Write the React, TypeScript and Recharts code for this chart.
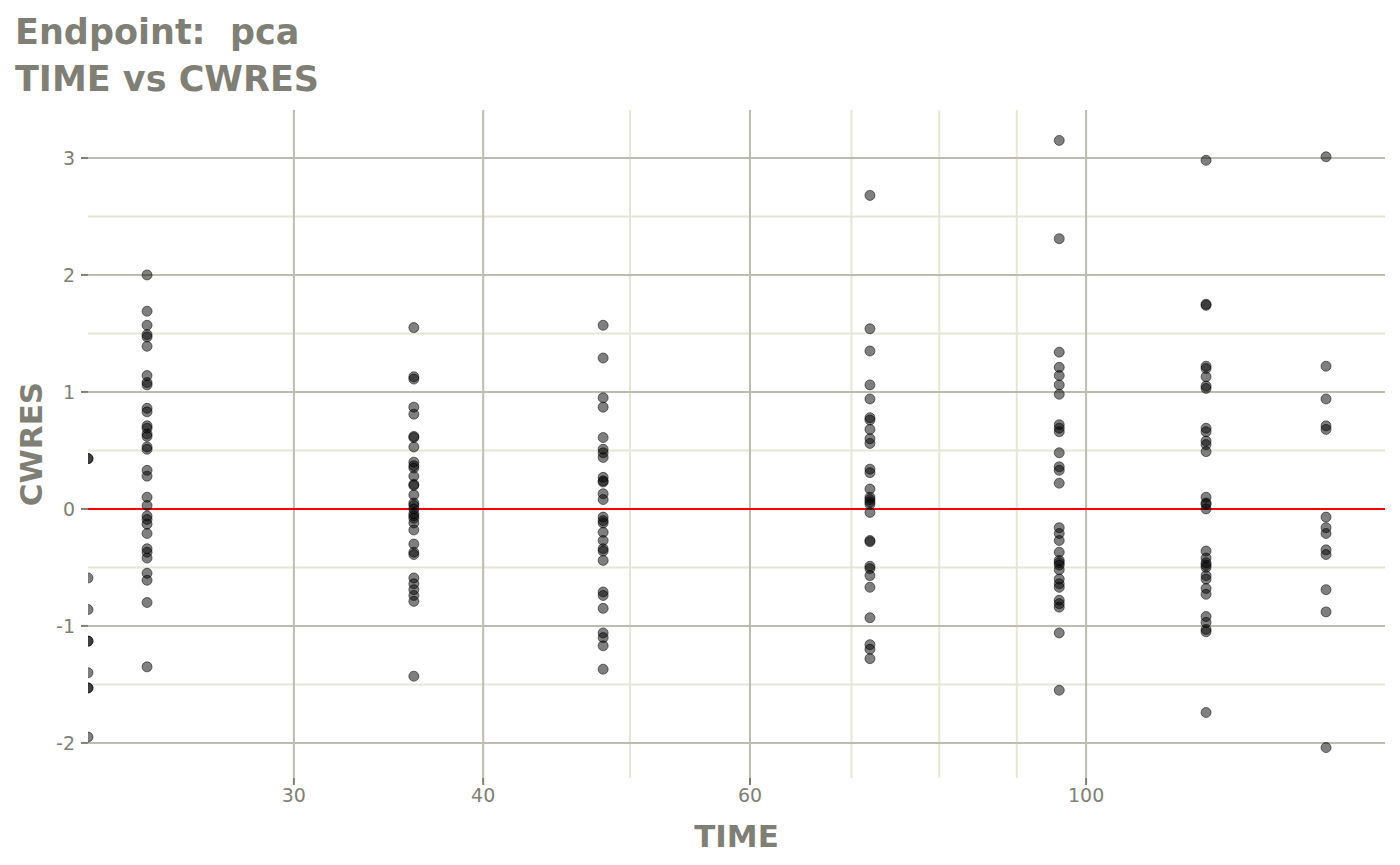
import React from 'react';
import { ScatterChart, Scatter, XAxis, YAxis, ReferenceLine } from 'recharts';

// time points (hours); 0 cannot sit on a log axis, it is squished to the left edge
const TIMES = [0, 24, 36, 48, 72, 96, 120, 144];

const CWRES_T0 = [0.43, 0.43, -0.59, -0.86, -1.13, -1.13, -1.4, -1.53, -1.53, -1.95];
const CWRES_T24 = [
  2.0, 1.69, 1.57, 1.49, 1.47, 1.39, 1.14, 1.08, 1.06, 0.86, 0.83, 0.71, 0.69, 0.64, 0.62, 0.53,
  0.51, 0.33, 0.28, 0.1, 0.03, -0.06, -0.09, -0.13, -0.21, -0.34, -0.37, -0.42, -0.55, -0.61, -0.8,
  -1.35,
];
const CWRES_T36 = [
  1.55, 1.13, 1.11, 0.87, 0.81, 0.62, 0.61, 0.53, 0.4, 0.37, 0.35, 0.28, 0.21, 0.2, 0.12, 0.05,
  0.03, 0.0, -0.04, -0.06, -0.08, -0.12, -0.18, -0.3, -0.37, -0.39, -0.59, -0.64, -0.69, -0.74,
  -0.79, -1.43,
];
const CWRES_T48 = [
  1.57, 1.29, 0.95, 0.87, 0.61, 0.51, 0.48, 0.44, 0.27, 0.24, 0.23, 0.13, 0.08, -0.07, -0.1, -0.12,
  -0.2, -0.27, -0.34, -0.36, -0.44, -0.71, -0.74, -0.85, -1.06, -1.1, -1.17, -1.37,
];
const CWRES_T72 = [
  2.68, 1.54, 1.35, 1.06, 0.94, 0.78, 0.76, 0.68, 0.6, 0.56, 0.34, 0.31, 0.17, 0.1, 0.08, 0.06,
  0.04, -0.03, -0.27, -0.28, -0.49, -0.51, -0.57, -0.67, -0.93, -1.16, -1.2, -1.28,
];
const CWRES_T96 = [
  3.15, 2.31, 1.34, 1.21, 1.14, 1.06, 0.98, 0.72, 0.69, 0.66, 0.48, 0.36, 0.33, 0.22, -0.16, -0.21,
  -0.27, -0.37, -0.44, -0.46, -0.48, -0.52, -0.6, -0.64, -0.67, -0.78, -0.81, -0.84, -1.06, -1.55,
];
const CWRES_T120 = [
  2.98, 1.75, 1.74, 1.22, 1.2, 1.13, 1.05, 1.03, 0.69, 0.66, 0.58, 0.55, 0.49, 0.1, 0.05, 0.04, 0.0,
  -0.36, -0.42, -0.46, -0.48, -0.5, -0.57, -0.6, -0.68, -0.73, -0.92, -0.97, -1.03, -1.05, -1.74,
];
const CWRES_T144 = [
  3.01, 1.22, 0.94, 0.71, 0.68, -0.07, -0.16, -0.21, -0.35, -0.39, -0.69, -0.88, -2.04,
];

const CWRES_BY_TIME = [
  CWRES_T0, CWRES_T24, CWRES_T36, CWRES_T48, CWRES_T72, CWRES_T96, CWRES_T120, CWRES_T144,
];

const X_TICKS = [30, 40, 60, 100];
const X_MINOR = [50, 70, 80, 90];
const Y_TICKS = [-2, -1, 0, 1, 2, 3];
const Y_MINOR = [-1.5, -0.5, 0.5, 1.5, 2.5];

// panel limits (ggplot 5% expansion on log10 scale)
const X_MIN = 21.94;
const X_MAX = 157.5;
const Y_MIN = -2.3;
const Y_MAX = 3.41;

const points = TIMES.flatMap((t, i) =>
  CWRES_BY_TIME[i].map((v) => ({ time: t > 0 ? t : X_MIN, cwres: v }))
);

const TEXT = '#7f7f75';
const MAJOR = '#bcbcb0';
const MINOR = '#e6e6d8';
const FONT = '"DejaVu Sans", sans-serif';

export default function App() {
  return (
    <div style={{ position: 'absolute', left: 0, top: 0, width: 1400, height: 865, background: '#fff', fontFamily: FONT }}>
      <div style={{ position: 'absolute', left: 15, top: 12, fontSize: 35, fontWeight: 'bold', color: TEXT, lineHeight: '40px', whiteSpace: 'pre' }}>
        {'Endpoint:  pca'}
      </div>
      <div style={{ position: 'absolute', left: 15, top: 59, fontSize: 35, fontWeight: 'bold', color: TEXT, lineHeight: '40px' }}>
        TIME vs CWRES
      </div>

      <ScatterChart
        width={1400}
        height={865}
        margin={{ top: 110, right: 15, bottom: 0, left: 0 }}
        style={{ position: 'absolute', left: 0, top: 0 }}
      >
        <XAxis
          dataKey="time"
          type="number"
          scale="log"
          domain={[X_MIN, X_MAX]}
          allowDataOverflow
          ticks={X_TICKS}
          height={87}
          axisLine={false}
          tickSize={7}
          tickMargin={4}
          tickLine={{ stroke: TEXT, strokeWidth: 2 }}
          tick={{ fill: TEXT, fontSize: 19, fontFamily: FONT }}
        />
        <YAxis
          dataKey="cwres"
          type="number"
          domain={[Y_MIN, Y_MAX]}
          allowDataOverflow
          ticks={Y_TICKS}
          width={88}
          axisLine={false}
          tickSize={7}
          tickMargin={6}
          tickLine={{ stroke: TEXT, strokeWidth: 2 }}
          tick={{ fill: TEXT, fontSize: 19, fontFamily: FONT }}
        />

        {Y_MINOR.map((y) => (
          <ReferenceLine key={`ym-${y}`} y={y} stroke={MINOR} strokeWidth={2} />
        ))}
        {X_MINOR.map((x) => (
          <ReferenceLine key={`xm-${x}`} x={x} stroke={MINOR} strokeWidth={2} />
        ))}
        {Y_TICKS.map((y) => (
          <ReferenceLine key={`y-${y}`} y={y} stroke={MAJOR} strokeWidth={2} />
        ))}
        {X_TICKS.map((x) => (
          <ReferenceLine key={`x-${x}`} x={x} stroke={MAJOR} strokeWidth={2} />
        ))}

        <Scatter
          data={points}
          isAnimationActive={false}
          shape={(p: any) => (
            <circle
              cx={p.cx}
              cy={p.cy}
              r={5}
              fill="#000"
              fillOpacity={0.5}
              stroke="#000"
              strokeOpacity={0.5}
              strokeWidth={1}
            />
          )}
        />

        <ReferenceLine y={0} stroke="#ff0000" strokeWidth={2} />
      </ScatterChart>

      <div style={{ position: 'absolute', left: 88, width: 1297, top: 818, textAlign: 'center', fontSize: 31, fontWeight: 'bold', color: TEXT, lineHeight: '36px' }}>
        TIME
      </div>
      <div
        style={{
          position: 'absolute',
          left: 31,
          top: 444,
          transform: 'translate(-50%, -50%) rotate(-90deg)',
          fontSize: 31,
          fontWeight: 'bold',
          color: TEXT,
          lineHeight: '36px',
        }}
      >
        CWRES
      </div>
    </div>
  );
}
